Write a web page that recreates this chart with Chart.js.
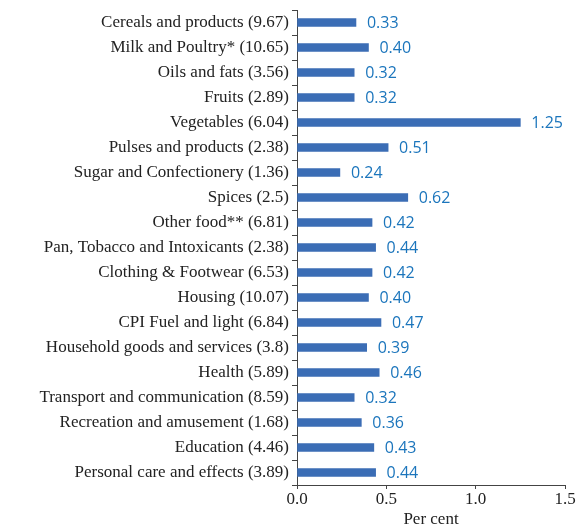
<!DOCTYPE html>
<html>
<head>
<meta charset="utf-8">
<script src="https://cdn.jsdelivr.net/npm/chart.js@4.4.0/dist/chart.umd.min.js"></script>
<style>
  html, body { margin: 0; padding: 0; background: #fff; }
  #wrap { width: 577px; height: 525px; }
</style>
</head>
<body>
<div id="wrap"><canvas id="chart"></canvas></div>
<script>
// categories with weights, and the per cent values
const categories = [
    'Cereals and products (9.67)',
    'Milk and Poultry* (10.65)',
    'Oils and fats (3.56)',
    'Fruits (2.89)',
    'Vegetables (6.04)',
    'Pulses and products (2.38)',
    'Sugar and Confectionery (1.36)',
    'Spices (2.5)',
    'Other food** (6.81)',
    'Pan, Tobacco and Intoxicants (2.38)',
    'Clothing & Footwear (6.53)',
    'Housing (10.07)',
    'CPI Fuel and light (6.84)',
    'Household goods and services (3.8)',
    'Health (5.89)',
    'Transport and communication (8.59)',
    'Recreation and amusement (1.68)',
    'Education (4.46)',
    'Personal care and effects (3.89)'
];
const values = [0.33, 0.40, 0.32, 0.32, 1.25, 0.51, 0.24, 0.62, 0.42, 0.44,
                0.42, 0.40, 0.47, 0.39, 0.46, 0.32, 0.36, 0.43, 0.44];
const xTicks = [0, 0.5, 1.0, 1.5];

// value labels at the end of each bar
const valueLabels = {
    id: 'valueLabels',
    afterDatasetsDraw(chart) {
        const ctx = chart.ctx;
        const meta = chart.getDatasetMeta(0);
        ctx.save();
        ctx.font = '16px "Open Sans", sans-serif';
        ctx.fillStyle = '#1b75bc';
        ctx.textAlign = 'left';
        ctx.textBaseline = 'middle';
        meta.data.forEach(function(bar, i) {
            ctx.fillText(values[i].toFixed(2), bar.x + 11, bar.y + 1);
        });
        ctx.restore();
    }
};

new Chart(document.getElementById('chart'), {
    type: 'bar',
    data: {
        labels: categories,
        datasets: [{
            data: values,
            backgroundColor: '#3b6db5',
            barThickness: 8
        }]
    },
    options: {
        indexAxis: 'y',
        responsive: true,
        maintainAspectRatio: false,
        animation: false,
        layout: { padding: { top: 0, right: 12, left: 0, bottom: 0 } },
        plugins: {
            legend: { display: false },
            tooltip: { enabled: false }
        },
        scales: {
            x: {
                min: 0,
                max: 1.5,
                afterBuildTicks: function(axis) {
                    axis.ticks = xTicks.map(v => ({ value: v }));
                },
                afterFit: function(axis) { axis.height = 40; },
                ticks: {
                    color: '#222',
                    font: { family: '"Liberation Serif", serif', size: 17 },
                    padding: 0,
                    callback: v => Number(v).toFixed(1)
                },
                grid: { drawOnChartArea: false, tickLength: 4, color: '#444' },
                border: { color: '#444', width: 1 },
                title: {
                    display: true,
                    text: 'Per cent',
                    color: '#222',
                    font: { family: '"Liberation Serif", serif', size: 17 },
                    padding: { top: 0, bottom: -5 }
                }
            },
            y: {
                afterFit: function(axis) {
                    axis.width = 297;
                    axis.paddingTop = 10;
                    axis.paddingBottom = 0;
                },
                ticks: {
                    color: '#222',
                    font: { family: '"Liberation Serif", serif', size: 17 },
                    padding: 3,
                    autoSkip: false
                },
                grid: { drawOnChartArea: false, offset: true, tickLength: 5, color: '#444' },
                border: { color: '#444', width: 1 }
            }
        }
    },
    plugins: [valueLabels]
});
</script>
</body>
</html>
